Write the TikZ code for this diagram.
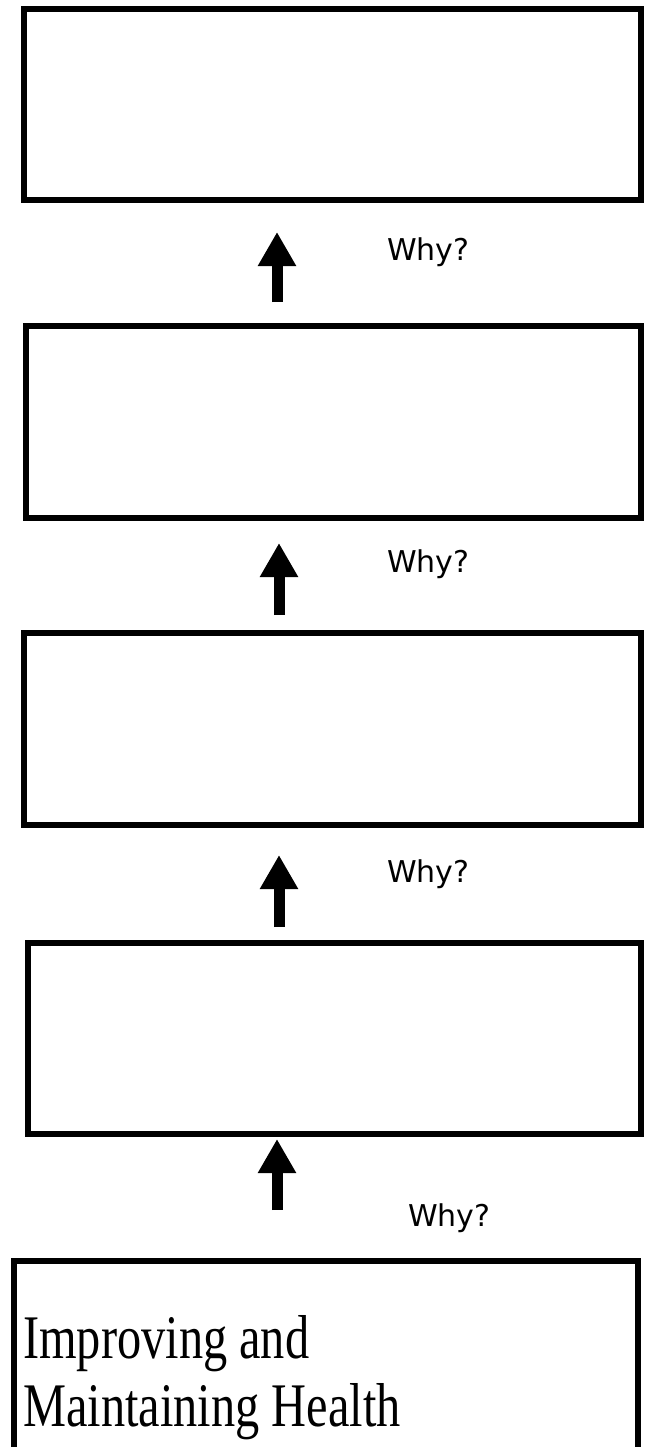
\documentclass[tikz,border=0pt]{standalone}
\usepackage{fontspec}
\usetikzlibrary{arrows.meta,fit}
\newfontfamily\whyfont{DejaVu Sans}
\newfontfamily\bodyserif[FakeStretch=0.78]{Liberation Serif}
\begin{document}
\begin{tikzpicture}[x=1pt,y=-1pt,
  box/.style={draw=black,line width=6pt,inner sep=0pt,fill=none},
  bigarrow/.style={line width=11pt,-{Triangle[width=36pt,length=34pt]}},
  whylabel/.style={anchor=mid west,inner sep=0pt,font=\whyfont\fontsize{30}{36}\selectfont}]
\useasboundingbox (0,0) rectangle (657,1447);
\fill[white] (0,0) rectangle (657,1447);
% boxes
\node[box,fit={(24,9) (641,200)}] (b1) {};
\node[box,fit={(26,326) (641,518)}] (b2) {};
\node[box,fit={(24,633) (641,825)}] (b3) {};
\node[box,fit={(28,943) (641,1134)}] (b4) {};
\node[box,fit={(14,1261) (638,1470)}] (b5) {};
% arrows
\coordinate (a1s) at (277,302); \coordinate (a1t) at (277,232);
\coordinate (a2s) at (279,615); \coordinate (a2t) at (279,543);
\coordinate (a3s) at (279,927); \coordinate (a3t) at (279,855);
\coordinate (a4s) at (277,1210); \coordinate (a4t) at (277,1139);
\draw[bigarrow] (a1s) -- (a1t);
\draw[bigarrow] (a2s) -- (a2t);
\draw[bigarrow] (a3s) -- (a3t);
\draw[bigarrow] (a4s) -- (a4t);
% labels
\node[whylabel] (w1) at (387,258) {Why?};
\node[whylabel] (w2) at (387,570) {Why?};
\node[whylabel] (w3) at (387,880) {Why?};
\node[whylabel] (w4) at (408,1224) {Why?};
\node[anchor=base west,inner sep=0pt,align=left,font=\bodyserif\fontsize{62}{68}\selectfont] (t5) at (23,1426) {Improving and\\Maintaining Health};
\end{tikzpicture}
\end{document}
